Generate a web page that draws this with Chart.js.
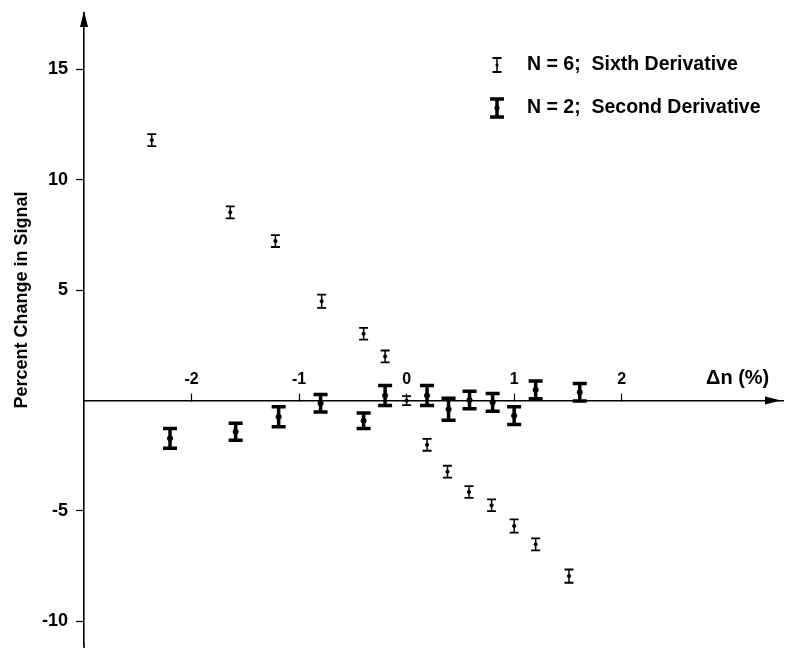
<!DOCTYPE html>
<html>
<head>
<meta charset="utf-8">
<script src="https://cdn.jsdelivr.net/npm/chart.js@4.4.1/dist/chart.umd.min.js"></script>
<style>
  html, body { margin: 0; padding: 0; background: #fff; }
</style>
</head>
<body>
<canvas id="grafico" width="795" height="648"></canvas>
<script>
// N = 6; sexta derivada (barras finas)
const xSexta = [-2.37, -1.64, -1.22, -0.79, -0.40, -0.20, 0, 0.19, 0.38, 0.58, 0.79, 1.0, 1.20, 1.51];
const ySexta = [11.8, 8.53, 7.23, 4.5, 3.03, 2.0, 0, -2.0, -3.22, -4.14, -4.74, -5.68, -6.51, -7.95];
const errSexta = [0.27, 0.27, 0.27, 0.3, 0.27, 0.27, 0.2, 0.27, 0.27, 0.27, 0.27, 0.3, 0.27, 0.3];

// N = 2; segunda derivada (barras gruesas)
const xSegunda = [-2.20, -1.59, -1.19, -0.80, -0.40, -0.20, 0.19, 0.39, 0.585, 0.80, 1.0, 1.20, 1.61];
const ySegunda = [-1.71, -1.41, -0.73, -0.12, -0.91, 0.23, 0.23, -0.39, 0.03, -0.08, -0.68, 0.49, 0.38];
const errSegunda = [0.45, 0.38, 0.45, 0.4, 0.35, 0.45, 0.45, 0.5, 0.4, 0.4, 0.4, 0.4, 0.4];

const ticksX = [-2, -1, 0, 1, 2];
const ticksY = [-10, -5, 5, 10, 15];

const leyenda = ["N = 6;  Sixth Derivative", "N = 2;  Second Derivative"];
const tituloY = "Percent Change in Signal";
const tituloX = "\u0394n (%)";

const fuente = "'Liberation Sans', Arial, Helvetica, sans-serif";

/******************************************************************
 * Dibuja una barra de error tipo "I"
 ******************************************************************/
const dibujarBarra = (ctx, x, yArriba, yAbajo, estilo) => {
  ctx.save();
  ctx.strokeStyle = "#000";
  ctx.lineWidth = estilo.grosor;
  ctx.lineCap = "butt";
  ctx.beginPath();
  ctx.moveTo(x, yArriba);
  ctx.lineTo(x, yAbajo);
  ctx.stroke();
  ctx.lineWidth = estilo.grosorTapa;
  ctx.beginPath();
  ctx.moveTo(x - estilo.tapa / 2, yArriba);
  ctx.lineTo(x + estilo.tapa / 2, yArriba);
  ctx.moveTo(x - estilo.tapa / 2, yAbajo);
  ctx.lineTo(x + estilo.tapa / 2, yAbajo);
  ctx.stroke();
  ctx.restore();
};

const barrasError = {
  id: "barrasError",
  afterDatasetsDraw(chart) {
    const { ctx } = chart;
    const sx = chart.scales.x;
    const sy = chart.scales.y;
    chart.data.datasets.forEach((ds) => {
      ds.data.forEach((p, i) => {
        const px = sx.getPixelForValue(p.x);
        const arriba = sy.getPixelForValue(p.y + ds.errores[i]);
        const abajo = sy.getPixelForValue(p.y - ds.errores[i]);
        dibujarBarra(ctx, px, arriba, abajo, ds.estiloBarra);
      });
    });
  },
};

const decoracion = {
  id: "decoracion",
  afterDraw(chart) {
    const { ctx, chartArea } = chart;
    const sy = chart.scales.y;
    const ejeX = sy.getPixelForValue(0);
    ctx.save();
    ctx.fillStyle = "#000";
    ctx.strokeStyle = "#000";

    // el eje y sigue hasta el borde inferior
    ctx.lineWidth = 1.6;
    ctx.beginPath();
    ctx.moveTo(chartArea.left, chartArea.bottom);
    ctx.lineTo(chartArea.left, chart.height);
    ctx.stroke();

    // flecha del eje y
    const xa = chartArea.left;
    ctx.beginPath();
    ctx.moveTo(xa, chartArea.top - 2);
    ctx.lineTo(xa - 4, chartArea.top + 14);
    ctx.lineTo(xa + 4, chartArea.top + 14);
    ctx.closePath();
    ctx.fill();

    // flecha del eje x
    const xr = chartArea.right - 2;
    ctx.beginPath();
    ctx.moveTo(xr, ejeX);
    ctx.lineTo(xr - 16, ejeX - 4);
    ctx.lineTo(xr - 16, ejeX + 4);
    ctx.closePath();
    ctx.fill();

    // titulo del eje x
    ctx.font = "bold 20px " + fuente;
    ctx.textBaseline = "middle";
    ctx.textAlign = "left";
    ctx.fillText(tituloX, 706, ejeX - 22);

    // titulo del eje y
    ctx.font = "bold 18px " + fuente;
    ctx.save();
    ctx.translate(22, 300);
    ctx.rotate(-Math.PI / 2);
    ctx.textAlign = "center";
    ctx.fillText(tituloY, 0, 0);
    ctx.restore();

    // leyenda
    ctx.font = "bold 19.5px " + fuente;
    const filas = [65, 108];
    chart.data.datasets.forEach((ds, i) => {
      const y = filas[i];
      const alto = ds.estiloBarra.grosor > 2 ? 9 : 7;
      dibujarBarra(ctx, 497, y - alto, y + alto, ds.estiloBarra);
      ctx.beginPath();
      ctx.arc(497, y, ds.pointRadius, 0, Math.PI * 2);
      ctx.fill();
      ctx.textAlign = "left";
      ctx.fillText(leyenda[i], 527, y);
    });
    ctx.restore();
  },
};

const puntos = (xs, ys) => xs.map((x, i) => ({ x, y: ys[i] }));

new Chart(document.getElementById("grafico"), {
  type: "scatter",
  data: {
    datasets: [
      {
        label: leyenda[0],
        data: puntos(xSexta, ySexta),
        errores: errSexta,
        estiloBarra: { grosor: 1.5, grosorTapa: 1.8, tapa: 9 },
        pointRadius: 1.6,
        backgroundColor: "#000",
        borderColor: "#000",
      },
      {
        label: leyenda[1],
        data: puntos(xSegunda, ySegunda),
        errores: errSegunda,
        estiloBarra: { grosor: 3.5, grosorTapa: 3.5, tapa: 14 },
        pointRadius: 2.6,
        backgroundColor: "#000",
        borderColor: "#000",
      },
    ],
  },
  options: {
    responsive: false,
    animation: false,
    layout: { padding: { left: 0, right: 12, top: 13, bottom: 0 } },
    plugins: { legend: { display: false }, tooltip: { enabled: false } },
    scales: {
      x: {
        type: "linear",
        min: -3,
        max: 3.5,
        position: { y: 0 },
        afterBuildTicks: (s) => {
          s.ticks = ticksX.map((v) => ({ value: v }));
        },
        afterFit: (s) => {
          s.paddingLeft = 0;
          s.paddingRight = 0;
        },
        grid: { drawOnChartArea: false, tickLength: -8, color: "#000", tickWidth: 1.2 },
        border: { display: true, color: "#000", width: 1.6 },
        ticks: {
          padding: -23,
          maxRotation: 0,
          color: "#000",
          font: { family: fuente, size: 16, weight: "bold" },
          callback: (v) => String(v),
        },
      },
      y: {
        type: "linear",
        min: -10.98,
        max: 17.56,
        position: "left",
        afterBuildTicks: (s) => {
          s.ticks = ticksY.map((v) => ({ value: v }));
        },
        afterFit: (s) => {
          s.width = 84;
          s.paddingTop = 0;
          s.paddingBottom = 0;
        },
        grid: { drawOnChartArea: false, tickLength: 8, color: "#000", tickWidth: 1.2 },
        border: { display: true, color: "#000", width: 1.6 },
        ticks: {
          padding: 8,
          color: "#000",
          font: { family: fuente, size: 18, weight: "bold" },
          callback: (v) => String(v),
        },
      },
    },
  },
  plugins: [barrasError, decoracion],
});
</script>
</body>
</html>
